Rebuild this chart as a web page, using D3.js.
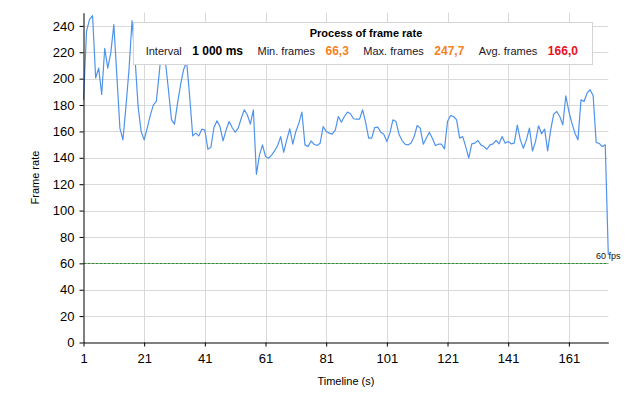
<!DOCTYPE html>
<html>
<head>
<meta charset="utf-8">
<script src="https://cdn.jsdelivr.net/npm/d3@7"></script>
<style>
  html, body { margin: 0; padding: 0; background: #fff; }
  svg { display: block; font-family: "Liberation Sans", Arial, sans-serif; }
</style>
</head>
<body>
<svg id="chart" width="628" height="404"></svg>
<script>
// Frame rate per second (timeline 1..N)
const frameRate = [
  184, 236, 245, 247.7, 200.5, 208, 188, 223, 208, 219.5,
  241, 202, 162.5, 153.6, 179, 207, 244, 215, 179, 160,
  153.6, 162.5, 172, 180, 182.7, 205, 228, 213, 191.6, 169,
  165.5, 181.5, 195.4, 206.8, 213, 186.5, 156.6, 158.7, 156.6, 161.7,
  161, 146.5, 148, 163, 168, 163.7, 152.8, 161, 167.5, 163,
  159.4, 162.5, 170, 176.4, 172.6, 165.5, 176.4, 127.5, 142, 149.8,
  141, 139.7, 142, 145.2, 149.3, 156.1, 144.2, 153.6, 162, 150.3,
  160, 166.3, 174.7, 149.8, 148.5, 152.8, 150.3, 149.3, 151, 163.7,
  160, 158.7, 158, 161, 171.3, 167, 171.3, 174.7, 173.4, 169.6,
  169.3, 169.3, 176.4, 167, 154.9, 154.9, 163, 163.3, 159.4, 157.9,
  152.3, 158.7, 168.8, 167.5, 157.9, 153.1, 150.3, 149.8, 151.3, 156.1,
  164.5, 162.5, 150.3, 154.9, 159.4, 154.9, 149.3, 150.3, 150.3, 146.8,
  167.5, 172, 171.3, 168.8, 154.9, 156.1, 148.5, 139.7, 150.6, 151.1,
  153.1, 149.8, 148.5, 146.5, 149.8, 150.6, 153.1, 150.6, 156.1, 151.1,
  152.3, 150.6, 151.1, 164.8, 153.6, 147.3, 153.6, 162.5, 145.2, 152.3,
  164.3, 158.2, 161.7, 145.2, 161, 173.1, 175.1, 171.3, 165, 187,
  175.1, 166.3, 158.7, 153.6, 184, 182.7, 189, 191.6, 187, 151.6,
  151, 148.5, 149.8, 66.3
];

const xTicks = [1, 21, 41, 61, 81, 101, 121, 141, 161];
const yTicks = [0, 20, 40, 60, 80, 100, 120, 140, 160, 180, 200, 220, 240];
const thresholdFps = 60;

// Legend entries
const legendLabels = ['Interval', 'Min. frames', 'Max. frames', 'Avg. frames'];
const legendValues = ['1 000 ms', '66,3', '247,7', '166,0'];
const legendColors = ['#000000', '#f5821f', '#f5821f', '#e8101e'];

const svg = d3.select('#chart');

const plotLeft = 83.5, plotRight = 608.3, plotTop = 12.7, plotBottom = 342.5;

const x = d3.scaleLinear().domain([1, frameRate.length]).range([plotLeft, plotRight]);
const y = d3.scaleLinear().domain([0, 250]).range([plotBottom, plotTop]);

// Grid
const grid = svg.append('g').attr('stroke', '#d9d9d9').attr('stroke-width', 1);
grid.selectAll('line.h')
    .data(yTicks.filter(d => d > 0))
    .enter().append('line')
    .attr('x1', plotLeft).attr('x2', plotRight)
    .attr('y1', d => Math.round(y(d)) + 0.5)
    .attr('y2', d => Math.round(y(d)) + 0.5);
grid.selectAll('line.v')
    .data(xTicks.filter(d => d > 1))
    .enter().append('line')
    .attr('x1', d => Math.round(x(d)) + 0.5)
    .attr('x2', d => Math.round(x(d)) + 0.5)
    .attr('y1', plotTop).attr('y2', plotBottom);

// 60 fps threshold
svg.append('line')
    .attr('x1', plotLeft).attr('x2', plotRight)
    .attr('y1', Math.round(y(thresholdFps)) + 0.5)
    .attr('y2', Math.round(y(thresholdFps)) + 0.5)
    .attr('stroke', '#2f8a2f')
    .attr('stroke-width', 1)
    .attr('stroke-dasharray', '3,1');

svg.append('text')
    .attr('x', x(frameRate.length))
    .attr('y', y(thresholdFps) - 4)
    .attr('text-anchor', 'middle')
    .style('font-size', '9px')
    .style('fill', '#111')
    .text(thresholdFps + ' fps');

// Frame rate line
const line = d3.line()
    .x((d, i) => x(i + 1))
    .y(d => y(d));

svg.append('path')
    .datum(frameRate)
    .attr('d', line)
    .attr('fill', 'none')
    .attr('stroke', '#4f93ec')
    .attr('stroke-width', 1.2)
    .attr('stroke-linejoin', 'round');

// Axes
const yAxis = svg.append('g')
    .attr('transform', `translate(${plotLeft},0)`)
    .call(d3.axisLeft(y).tickValues(yTicks).tickSize(4).tickSizeOuter(0).tickPadding(5));
const xAxis = svg.append('g')
    .attr('transform', `translate(0,${plotBottom})`)
    .call(d3.axisBottom(x).tickValues(xTicks).tickSize(4).tickSizeOuter(0).tickPadding(7));

[yAxis, xAxis].forEach(g => {
    g.selectAll('path, line').attr('stroke', '#000');
    g.selectAll('text')
        .style('font-size', '13px')
        .style('font-family', '"Liberation Sans", Arial, sans-serif')
        .attr('fill', '#000');
});

// Axis titles
svg.append('text')
    .attr('x', (plotLeft + plotRight) / 2)
    .attr('y', 385)
    .attr('text-anchor', 'middle')
    .style('font-size', '11px')
    .attr('fill', '#000')
    .text('Timeline (s)');

svg.append('text')
    .attr('transform', `translate(39,${(plotTop + plotBottom) / 2}) rotate(-90)`)
    .attr('text-anchor', 'middle')
    .style('font-size', '11px')
    .attr('fill', '#000')
    .text('Frame rate');

// Legend box
const legend = svg.append('g');
legend.append('rect')
    .attr('x', 133.5).attr('y', 22.5)
    .attr('width', 459).attr('height', 42)
    .attr('fill', '#fff')
    .attr('stroke', '#d4d4d4');

legend.append('text')
    .attr('x', 366)
    .attr('y', 37)
    .attr('text-anchor', 'middle')
    .style('font-size', '11px')
    .style('font-weight', 'bold')
    .attr('fill', '#000')
    .text('Process of frame rate');

let cursor = 145.7;
legendLabels.forEach((label, i) => {
    const t = legend.append('text')
        .attr('x', cursor).attr('y', 55)
        .style('font-size', '11px')
        .attr('fill', '#1e1426')
        .text(label);
    cursor += t.node().getComputedTextLength() + 10.5;
    const v = legend.append('text')
        .attr('x', cursor).attr('y', 55)
        .style('font-size', '12px')
        .style('font-weight', 'bold')
        .attr('fill', legendColors[i])
        .text(legendValues[i]);
    cursor += v.node().getComputedTextLength() + 14.5;
});
</script>
</body>
</html>
